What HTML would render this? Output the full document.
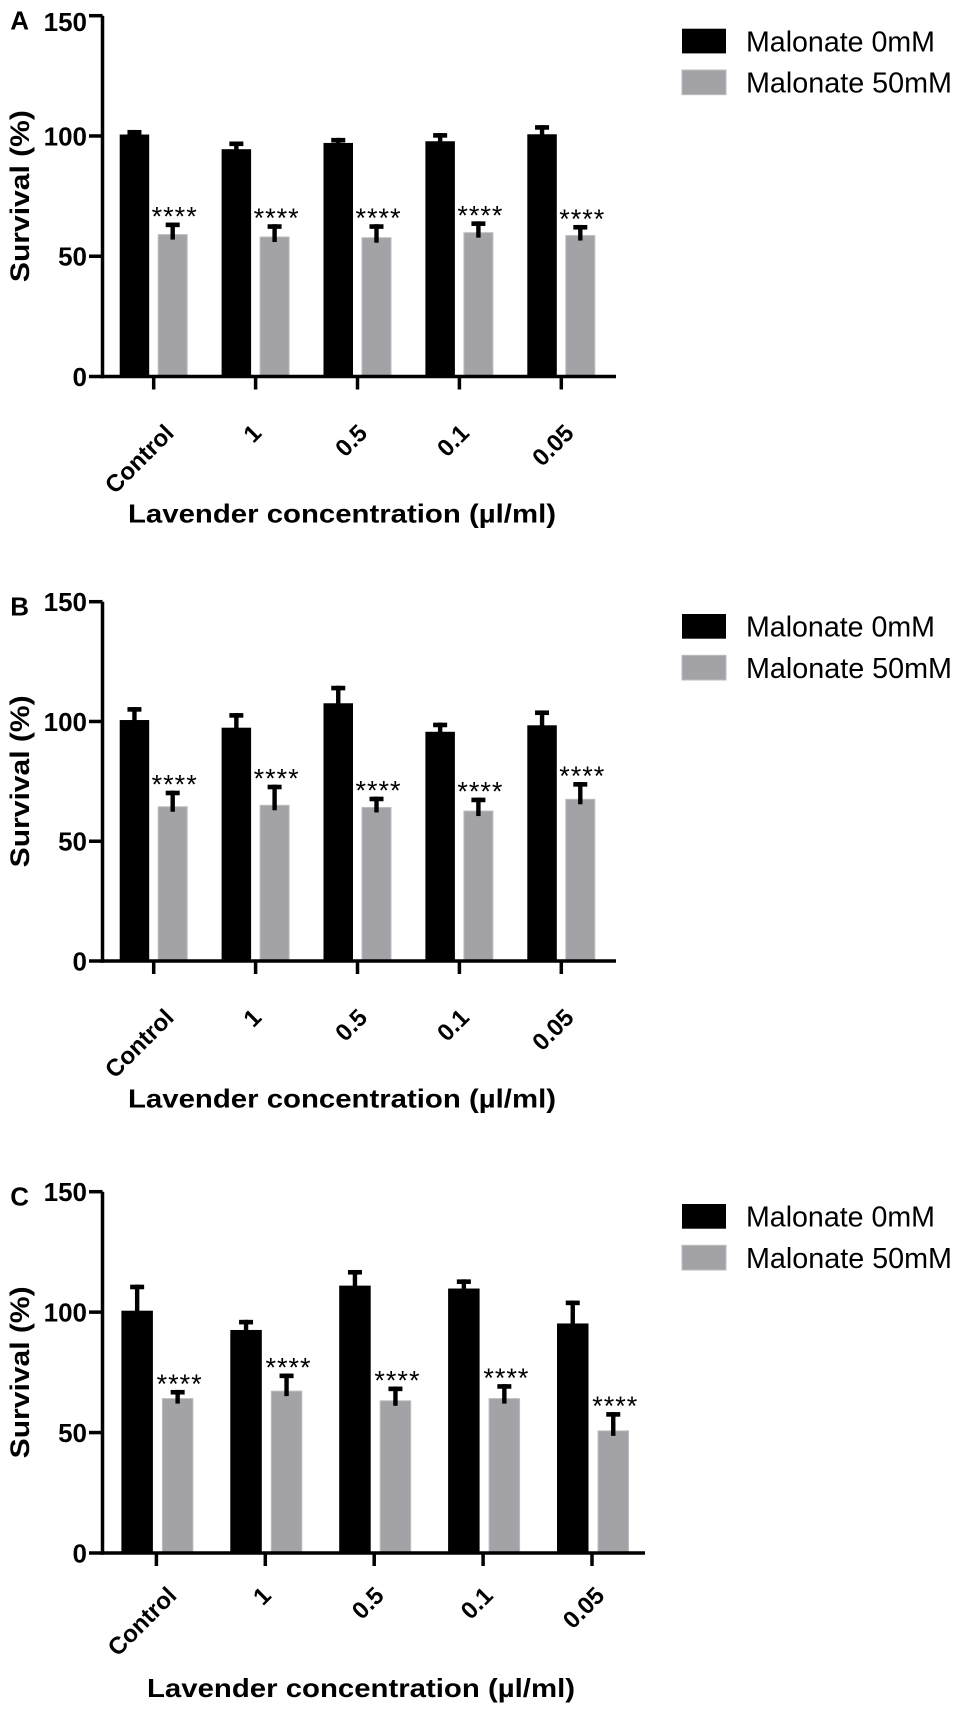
<!DOCTYPE html>
<html><head><meta charset="utf-8"><style>
html,body{margin:0;padding:0;background:#fff;}
svg{display:block;font-family:"Liberation Sans",Arial,sans-serif;}
</style></head>
<body>
<svg id="fig" width="957" height="1711" viewBox="0 0 957 1711" xmlns="http://www.w3.org/2000/svg"></svg>
<script>
const categories = ["Control","1","0.5","0.1","0.05"];
const yTicks = [0,50,100,150];
const seriesNames = ["Malonate 0mM","Malonate 50mM"];
const aBlack = [100.6,94.5,97.1,97.8,100.7];
const aBlackErr = [102.5,97.7,99.2,101.2,104.5];
const aGray = [59.0,58.0,57.7,59.8,58.6];
const aGrayErr = [64.0,63.3,63.3,64.5,63.0];
const bBlack = [100.6,97.4,107.6,95.7,98.4];
const bBlackErr = [106.0,103.5,114.9,99.5,104.6];
const bGray = [64.4,65.0,64.1,62.6,67.5];
const bGrayErr = [71.1,73.6,68.6,68.2,74.7];
const cBlack = [100.6,92.6,111.0,109.8,95.3];
const cBlackErr = [111.4,96.8,117.5,113.6,104.8];
const cGray = [64.1,67.2,63.2,64.1,50.7];
const cGrayErr = [67.7,74.5,69.1,70.1,58.5];
const sigLabels = ["****","****","****","****","****"];

const NS="http://www.w3.org/2000/svg";
const svg=document.getElementById('fig');
function mk(tag,attrs,parent,text){const e=document.createElementNS(NS,tag);for(const k in attrs)e.setAttribute(k,attrs[k]);if(text!==undefined)e.textContent=text;(parent||svg).appendChild(e);return e;}

const panels=[
 {letter:"A",y0:376.5,yTop:15.7,c0:153.7,dc:101.9,bk:[-34,-4.5],gr:[4,34],axisEnd:616,labY:58,titleX:342,titleY:522.5,legY:28.7,black:aBlack,blackErr:aBlackErr,gray:aGray,grayErr:aGrayErr,topLabelShift:6},
 {letter:"B",y0:961,yTop:601.7,c0:153.7,dc:101.9,bk:[-34,-4.5],gr:[4,34],axisEnd:616,labY:58,titleX:342,titleY:1107.5,legY:614,black:bBlack,blackErr:bBlackErr,gray:bGray,grayErr:bGrayErr,topLabelShift:0},
 {letter:"C",y0:1553,yTop:1191.7,c0:156.4,dc:108.9,bk:[-35,-3.5],gr:[5.5,37],axisEnd:645,labY:44,titleX:361,titleY:1697,legY:1204,black:cBlack,blackErr:cBlackErr,gray:cGray,grayErr:cGrayErr,topLabelShift:0}
];
const axisX=102.5;

panels.forEach(p=>{
  const g=mk('g',{});
  
  
  const yS=v=>p.y0-(v/150)*(p.y0-p.yTop);
  const xC=i=>p.c0+i*p.dc;

  const L=mk('text',{x:29,y:p.yTop+14,'text-anchor':'end','font-size':26,'font-weight':'bold'},g,p.letter);
  
  

  categories.forEach((c,i)=>{
    const cx=xC(i);
    const hb=mk('rect',{x:cx+p.bk[0],y:yS(p.black[i]),width:p.bk[1]-p.bk[0],height:yS(0)-yS(p.black[i]),fill:'#000'},g);
    
    
    const gb=mk('rect',{x:cx+p.gr[0]+0.5,y:yS(p.gray[i]),width:p.gr[1]-p.gr[0]-1,height:yS(0)-yS(p.gray[i]),fill:'#a3a2a7',stroke:'#bdbdc0','stroke-width':1},g);
    
    
    [[p.bk,p.black[i],p.blackErr[i]],[p.gr,p.gray[i],p.grayErr[i]]].forEach(([r,v,e])=>{
      const m=cx+(r[0]+r[1])/2;
      const st=mk('rect',{x:m-2.2,y:yS(e),width:4.4,height:yS(v)-yS(e)+5,fill:'#000'},g);
      
      
      const cp=mk('rect',{x:m-7,y:yS(e),width:14,height:4.6,fill:'#000'},g);
      
      
    });
    const gm=cx+(p.gr[0]+p.gr[1])/2;
    const s=mk('text',{x:gm+2,y:yS(p.grayErr[i])+3,'text-anchor':'middle','font-size':27,'letter-spacing':1},g,sigLabels[i]);
    
    
    const t=mk('line',{x1:cx,y1:p.y0,x2:cx,y2:p.y0+13,stroke:'#000','stroke-width':3.5},g);
    
    
    const tl=mk('text',{x:0,y:0,'text-anchor':'end','font-size':24,'font-weight':'bold'},g,c);
    
    
    let len=13*c.length;
    try{len=tl.getComputedTextLength()||len;}catch(err){}
    const ax=cx+4.5+0.2*len, ay=p.y0+p.labY;
    tl.setAttribute('x',ax);tl.setAttribute('y',ay);
    tl.setAttribute('transform',`rotate(-45 ${ax} ${ay})`);
  });

  const ya=mk('line',{x1:axisX,y1:p.yTop,x2:axisX,y2:p.y0+1.7,stroke:'#000','stroke-width':3.5},g);
  
  
  const xa=mk('line',{x1:axisX-1.7,y1:p.y0,x2:p.axisEnd,y2:p.y0,stroke:'#000','stroke-width':3.5},g);
  
  
  yTicks.forEach(v=>{
    const y=yS(v);
    const tk=mk('line',{x1:89,y1:y,x2:axisX,y2:y,stroke:'#000','stroke-width':3.5},g);
    
    
    const sh=(v===150)?p.topLabelShift:0;
    const tx=mk('text',{x:87,y:y+9.5+sh,'text-anchor':'end','font-size':26,'font-weight':'bold'},g,String(v));
    
    
  });
  const yc=(p.y0+p.yTop)/2;
  const yt=mk('text',{x:29,y:yc,'text-anchor':'middle','font-size':27,'font-weight':'bold',textLength:172,lengthAdjust:'spacingAndGlyphs',transform:`rotate(-90 29 ${yc})`},g,'Survival (%)');
  
  
  const xt=mk('text',{x:p.titleX,y:p.titleY,'text-anchor':'middle','font-size':26,'font-weight':'bold',textLength:428,lengthAdjust:'spacingAndGlyphs'},g,'Lavender concentration (\u00b5l/ml)');
  
  

  const fills=['#000','#a3a2a7'];
  const widths=[189,206];
  seriesNames.forEach((n,k)=>{
    const top=p.legY+k*41.3;
    const sw=mk('rect',{x:682,y:top,width:44,height:24.7,fill:fills[k],stroke:k?'#bdbdc0':'none','stroke-width':1},g);
    
    
    const lt=mk('text',{x:746,y:top+22.7,'font-size':29,textLength:widths[k],lengthAdjust:'spacingAndGlyphs'},g,n);
    
    
  });
});
</script>
</body></html>
